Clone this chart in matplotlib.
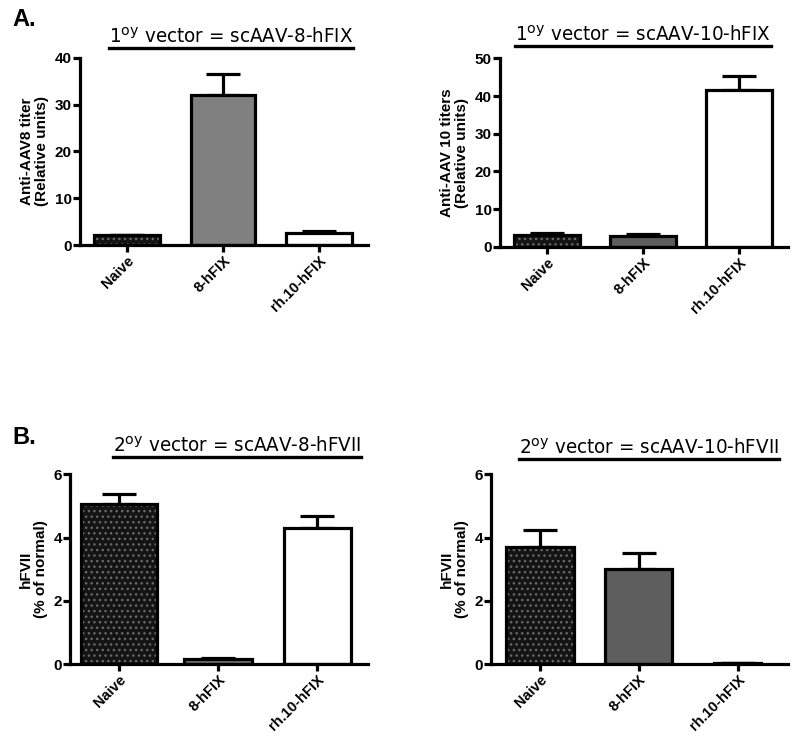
import matplotlib.pyplot as plt
from matplotlib.lines import Line2D

plt.rcParams['font.family'] = ['Liberation Sans', 'DejaVu Sans']

groups = ['Naive', '8-hFIX', 'rh.10-hFIX']

# panel A: anti-capsid titers
a8_mean = [2.1, 32.0, 2.6]
a8_err = [0.2, 4.4, 0.4]
a10_mean = [3.2, 2.9, 41.5]
a10_err = [0.6, 0.4, 3.8]

# panel B: hFVII expression
b8_mean = [5.05, 0.15, 4.3]
b8_err = [0.32, 0.04, 0.37]
b10_mean = [3.7, 3.0, 0.03]
b10_err = [0.53, 0.52, 0.0]

titles = []


def panel(rect, means, errs, ylim, yticks, ylabel, title, title_pos, gray, widths):
    ax = fig.add_axes(rect)
    x = range(len(groups))
    colors = ['#141414', gray, 'white']
    # dotted fill for naive
    ax.bar(x, means, width=widths, color=colors, hatch=['...', None, None],
           edgecolor='#6a6a6a', linewidth=0, zorder=2)
    ax.bar(x, means, width=widths, fill=False, edgecolor='black',
           linewidth=2.3, zorder=3)
    ax.errorbar(x, means, yerr=[[0] * len(errs), errs], fmt='none',
                ecolor='black', elinewidth=2.3, capsize=12, capthick=2.3,
                zorder=1)
    ax.set_xlim(-0.49, 2.51)
    ax.set_ylim(*ylim)
    ax.set_yticks(yticks)
    ax.set_xticks(list(x))
    ax.set_xticklabels(groups, rotation=45, ha='right', rotation_mode='anchor',
                       fontsize=10.5, fontweight='bold')
    for lab in ax.get_yticklabels():
        lab.set_fontweight('bold')
        lab.set_fontsize(11)
    ax.tick_params(width=2.3, length=5, pad=1)
    for s in ['top', 'right']:
        ax.spines[s].set_visible(False)
    for s in ['left', 'bottom']:
        ax.spines[s].set_linewidth(2.3)
    ax.set_ylabel(ylabel, fontsize=11, fontweight='bold', linespacing=1.1,
                  labelpad=4)

    tx, ty = title_pos
    t = fig.text(tx, ty, title, fontsize=14.7, ha='left', va='baseline',
                 family='DejaVu Sans', stretch='condensed')
    titles.append(t)
    return ax


fig = plt.figure(figsize=(8.0, 7.48), dpi=100)

panel([0.100, 0.672, 0.360, 0.251], a8_mean, a8_err, (0, 40), [0, 10, 20, 30, 40],
      'Anti-AAV8 titer\n(Relative units)', '1$^{\\mathrm{oy}}$ vector = scAAV-8-hFIX',
      (0.136, 0.943), '#808080', [0.69, 0.67, 0.69])
panel([0.625, 0.670, 0.360, 0.252], a10_mean, a10_err, (0, 50), [0, 10, 20, 30, 40, 50],
      'Anti-AAV 10 titers\n(Relative units)', '1$^{\\mathrm{oy}}$ vector = scAAV-10-hFIX',
      (0.644, 0.945), '#5e5e5e', [0.69, 0.69, 0.69])
panel([0.088, 0.112, 0.372, 0.254], b8_mean, b8_err, (0, 6), [0, 2, 4, 6],
      'hFVII\n(% of normal)', '2$^{\\mathrm{oy}}$ vector = scAAV-8-hFVII',
      (0.141, 0.396), '#707070', [0.77, 0.68, 0.68])
panel([0.614, 0.112, 0.371, 0.254], b10_mean, b10_err, (0, 6), [0, 2, 4, 6],
      'hFVII\n(% of normal)', '2$^{\\mathrm{oy}}$ vector = scAAV-10-hFVII',
      (0.649, 0.394), '#5e5e5e', [0.69, 0.68, 0.48])

fig.text(0.015, 0.965, 'A.', fontsize=17, fontweight='bold', va='baseline')
fig.text(0.016, 0.407, 'B.', fontsize=17, fontweight='bold', va='baseline')

# underline each title across its drawn width
fig.canvas.draw()
inv = fig.transFigure.inverted()
for t in titles:
    bb = t.get_window_extent().transformed(inv)
    y = t.get_position()[1] - 0.007
    fig.add_artist(Line2D([bb.x0, bb.x1], [y, y], color='black', linewidth=2.4))

fig.savefig('out.png', dpi=100)
